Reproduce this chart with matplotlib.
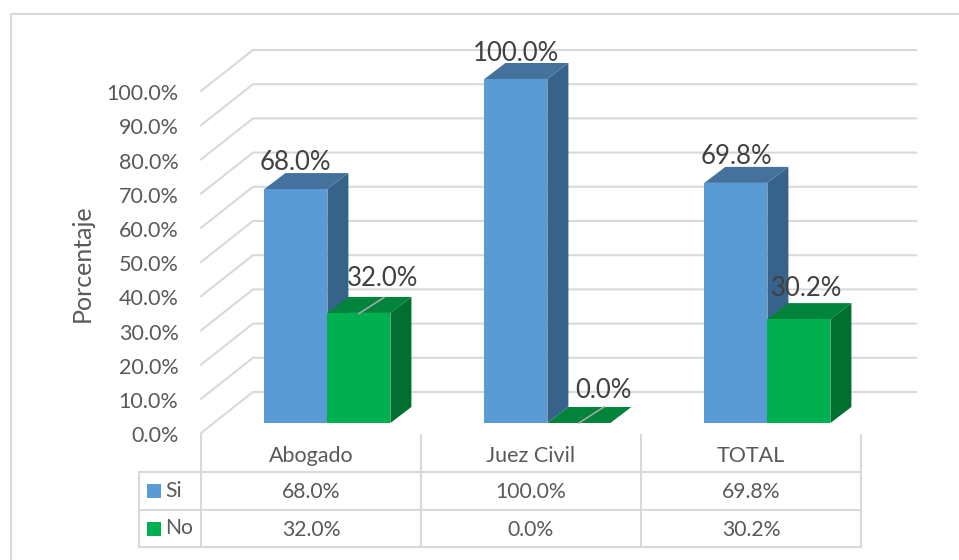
import matplotlib
matplotlib.use('Agg')
import matplotlib.pyplot as plt
from matplotlib.patches import Polygon

plt.rcParams['font.family'] = ['Lato', 'DejaVu Sans']

categories = ['Abogado', 'Juez Civil', 'TOTAL']
si_values = [68.0, 100.0, 69.8]
no_values = [32.0, 0.0, 30.2]
y_ticks = [0, 10, 20, 30, 40, 50, 60, 70, 80, 90, 100]

W, H = 959, 560
LEFT, RIGHT, Y0, Y100 = 201, 861, 433, 91
px_x = 3 / (RIGHT - LEFT)
px_y = 100 / (Y0 - Y100)

GRID = '#D9D9D9'
TEXT = '#595959'
LABEL = '#404040'

fig = plt.figure(figsize=(W / 100, H / 100), dpi=100)
ax = fig.add_axes([LEFT / W, 1 - Y0 / H, (RIGHT - LEFT) / W, (Y0 - Y100) / H])
ax.set_xlim(0, 3)
ax.set_ylim(0, 100)
ax.axis('off')


def hline(x1, x2, y, **kw):
    ax.plot([x1, x2], [y, y], clip_on=False, solid_capstyle='butt', **kw)


# outer frame of the chart (no right or bottom side in the picture)
frame = fig.add_axes([0, 0, 1, 1], zorder=-1)
frame.set_xlim(0, W)
frame.set_ylim(H, 0)
frame.axis('off')
frame.plot([11, 11, 959], [560, 14, 14], color=GRID, lw=1.5)

# walls gridlines
wall_dx = 52 * px_x
wall_dy = 41 * px_y
back_right = 916
for t in y_ticks:
    ax.plot([0, wall_dx, (back_right - LEFT) * px_x], [t, t + wall_dy, t + wall_dy],
            color=GRID, lw=1.5, clip_on=False, zorder=1)
    ax.text(-22.5 * px_x, t - 3.2 * px_y, '%.1f%%' % t, ha='right', va='center', fontsize=15.5, color=TEXT)

# 3d columns
bar_w = 63 * px_x
depth_x = 21 * px_x
depth_y = 16 * px_y
lift = 10 * px_y
shift = 16.4 * px_x
bar_scale = 344 / 342


def column(x, val, front, top, side, z):
    y0, y1 = lift, lift + val * bar_scale
    ax.add_patch(Polygon([(x + bar_w, y0), (x + bar_w + depth_x, y0 + depth_y),
                          (x + bar_w + depth_x, y1 + depth_y), (x + bar_w, y1)],
                         fc=side, ec='none', clip_on=False, zorder=z))
    ax.add_patch(Polygon([(x, y1), (x + depth_x, y1 + depth_y),
                          (x + bar_w + depth_x, y1 + depth_y), (x + bar_w, y1)],
                         fc=top, ec='none', clip_on=False, zorder=z))
    ax.add_patch(Polygon([(x, y0), (x + bar_w, y0), (x + bar_w, y1), (x, y1)],
                         fc=front, ec='none', clip_on=False, zorder=z + 0.1))


# label nudges in pixels, the labels sit by hand in the original
si_nudge = [-11, -10, -10]
no_nudge = [-3, -2, -19]
no_lift = [7, 4, 3]
for i, (s, n) in enumerate(zip(si_values, no_values)):
    c = i + 0.5 + shift
    column(c - bar_w, s, '#5B9BD5', '#44729D', '#376289', 2)
    column(c, n, '#00B050', '#00843C', '#006F2F', 3)
    ax.text(c - bar_w / 2 + 0.5 * depth_x + si_nudge[i] * px_x, lift + s + depth_y - 1 * px_y,
            '%.1f%%' % s, ha='center', va='bottom', fontsize=18.5, color=LABEL, zorder=6)
    # leader line goes from the top of the green column to its label
    mid = c + bar_w / 2
    if i < 2:
        ax.plot([mid, mid + 25 * px_x], [lift + n, lift + n + depth_y],
                color='#A6A6A6', lw=1.2, clip_on=False, zorder=5)
    ax.text(mid + (27 + no_nudge[i]) * px_x, lift + n + depth_y + no_lift[i] * px_y,
            '%.1f%%' % n, ha='center', va='bottom', fontsize=18.5, color=LABEL, zorder=6)

# data table under the columns
row1, row2, row3 = -39 * px_y, -77 * px_y, -114 * px_y
for k in range(4):
    ax.plot([k, k], [-2 * px_y, row3], color=GRID, lw=1.5, clip_on=False)
leg_x = -62 * px_x
ax.plot([leg_x, leg_x], [row1, row3], color=GRID, lw=1.5, clip_on=False)
for r in (row1, row2, row3):
    hline(leg_x, 3, r, color=GRID, lw=1.5)

mid1 = (row1 + row2) / 2
mid2 = (row2 + row3) / 2
for i, cat in enumerate(categories):
    ax.text(i + 0.5, row1 / 2 - 4 * px_y, cat, ha='center', va='center', fontsize=15.5, color=TEXT)
    ax.text(i + 0.5, mid1 - 0.5 * px_y, '%.1f%%' % si_values[i], ha='center', va='center', fontsize=15.2, color=TEXT)
    ax.text(i + 0.5, mid2 - 1.5 * px_y, '%.1f%%' % no_values[i], ha='center', va='center', fontsize=15.2, color=TEXT)

ax.scatter([-47.5 * px_x], [mid1], marker='s', s=100, color='#5B9BD5', clip_on=False, linewidths=0)
ax.scatter([-47.5 * px_x], [mid2], marker='s', s=100, color='#00B050', clip_on=False, linewidths=0)
ax.text(-36 * px_x, mid1, 'Si', ha='left', va='center', fontsize=15.2, color=TEXT)
ax.text(-36 * px_x, mid2, 'No', ha='left', va='center', fontsize=15.2, color=TEXT)

ax.text(-119 * px_x, 50 - 1 * px_y, 'Porcentaje', rotation=90, ha='center', va='center',
        fontsize=18, color=TEXT)

fig.savefig('out.png', dpi=100)
